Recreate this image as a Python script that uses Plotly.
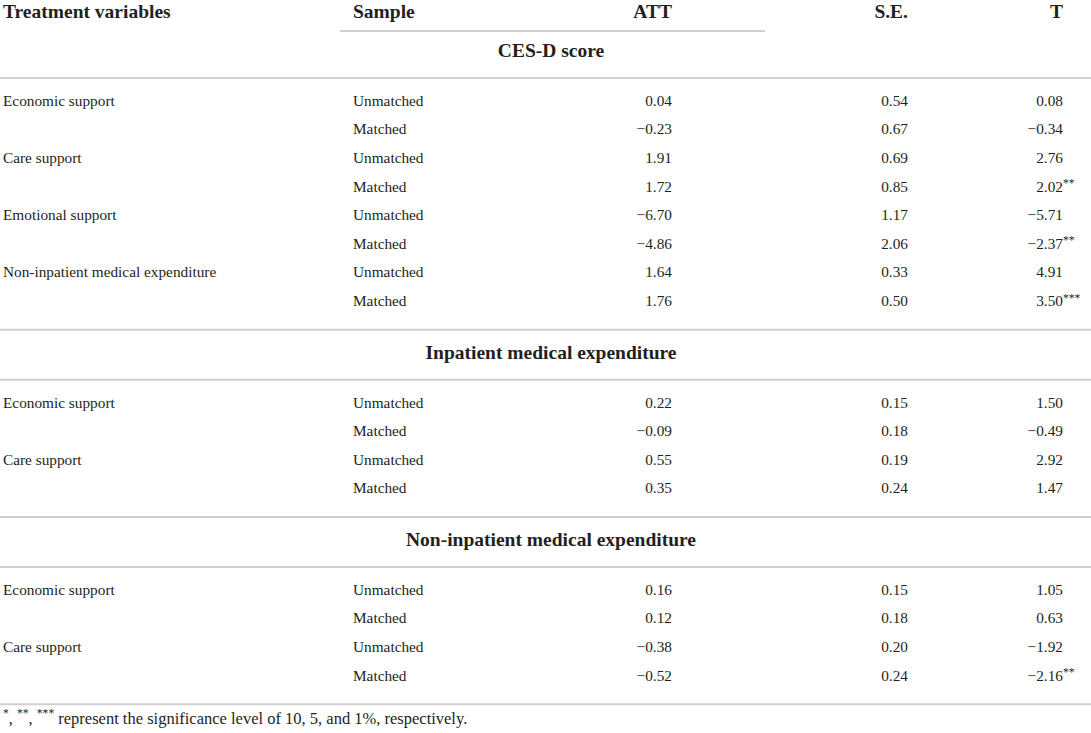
import plotly.graph_objects as go

# ---- table content ----
col_heads = ['Treatment variables', 'Sample', 'ATT', 'S.E.', 'T']
sections = ['CES-D score', 'Inpatient medical expenditure', 'Non-inpatient medical expenditure']
treatments = [
    ['Economic support', 'Care support', 'Emotional support', 'Non-inpatient medical expenditure'],
    ['Economic support', 'Care support'],
    ['Economic support', 'Care support'],
]
samples = ['Unmatched', 'Matched']

att = [
    [0.04, -0.23, 1.91, 1.72, -6.70, -4.86, 1.64, 1.76],
    [0.22, -0.09, 0.55, 0.35],
    [0.16, 0.12, -0.38, -0.52],
]
se = [
    [0.54, 0.67, 0.69, 0.85, 1.17, 2.06, 0.33, 0.50],
    [0.15, 0.18, 0.19, 0.24],
    [0.15, 0.18, 0.20, 0.24],
]
tval = [
    [0.08, -0.34, 2.76, 2.02, -5.71, -2.37, 4.91, 3.50],
    [1.50, -0.49, 2.92, 1.47],
    [1.05, 0.63, -1.92, -2.16],
]
stars = [
    [0, 0, 0, 2, 0, 2, 0, 3],
    [0, 0, 0, 0],
    [0, 0, 0, 2],
]
footnote = ('<sup>*</sup>, <sup>**</sup>, <sup>***</sup> represent the significance level '
            'of 10, 5, and 1%, respectively.')

# ---- layout (pixels) ----
W, H = 1091, 733
FONT = 'Liberation Serif'
INK = '#231f20'
RULE = '#d0d0d0'
x_treat, x_sample = 3, 353
x_att, x_se, x_t = 672, 908, 1063
x_title = 551
ROW = 28.6


def fmt(v):
    return f'{v:.2f}'.replace('-', '\u2212')


# vertical positions from a running cursor
y_head = 13
band_top = 28
title_y, rules = [], []
rows = []  # (y, treatment or '', sample, att, se, t, stars)
for s, name in enumerate(sections):
    title_y.append(band_top + 24.5)
    y_line = band_top + 50
    rules.append(y_line)
    y = y_line + 24
    for i in range(len(att[s])):
        tr = treatments[s][i // 2] if i % 2 == 0 else ''
        rows.append((y, tr, samples[i % 2], fmt(att[s][i]), fmt(se[s][i]),
                     fmt(tval[s][i]), '*' * stars[s][i]))
        y += ROW
    band_top = y - ROW + 27.5
    rules.append(band_top)
y_foot = band_top + 16

fig = go.Figure()


def text_trace(xs, ys, texts, pos, size=15, bold=False):
    fig.add_trace(go.Scatter(
        x=xs, y=ys, text=texts, mode='text', textposition=pos,
        textfont=dict(family=FONT, size=size, color=INK,
                      weight='bold' if bold else 'normal'),
        hoverinfo='skip', showlegend=False, cliponaxis=False))


# header
text_trace([x_treat, x_sample], [y_head] * 2, col_heads[:2], 'middle right', 19.5, True)
text_trace([x_att, x_se, x_t], [y_head] * 3, col_heads[2:], 'middle left', 19.5, True)
# section titles
text_trace([x_title] * len(sections), title_y, sections, 'middle center', 19.5, True)
# body
ys = [r[0] for r in rows]
text_trace([x_treat] * len(rows), ys, [r[1] for r in rows], 'middle right', 15.3)
text_trace([x_sample] * len(rows), ys, [r[2] for r in rows], 'middle right', 15.3)
text_trace([x_att] * len(rows), ys, [r[3] for r in rows], 'middle left', 15.3)
text_trace([x_se] * len(rows), ys, [r[4] for r in rows], 'middle left', 15.3)
text_trace([x_t] * len(rows), ys, [r[5] for r in rows], 'middle left', 15.3)
# significance stars hang to the right of the T values
star_rows = [r for r in rows if r[6]]
text_trace([x_t] * len(star_rows), [r[0] - 3.5 for r in star_rows],
           [r[6] for r in star_rows], 'middle right', 11.5)
# footnote
text_trace([x_treat], [y_foot], [footnote], 'middle right', 16.5)

# rules
fig.add_shape(type='line', x0=340, x1=765, y0=31, y1=31,
              line=dict(color=RULE, width=2), xref='x', yref='y')
for yl in rules:
    fig.add_shape(type='line', x0=0, x1=W, y0=yl, y1=yl,
                  line=dict(color=RULE, width=2), xref='x', yref='y')

fig.update_xaxes(range=[0, W], visible=False, fixedrange=True)
fig.update_yaxes(range=[H, 0], visible=False, fixedrange=True)
fig.update_layout(width=W, height=H, margin=dict(l=0, r=0, t=0, b=0),
                  plot_bgcolor='white', paper_bgcolor='white')

fig.write_html('out.html', config={'displayModeBar': False},
               post_script="document.body.style.margin='0';")
